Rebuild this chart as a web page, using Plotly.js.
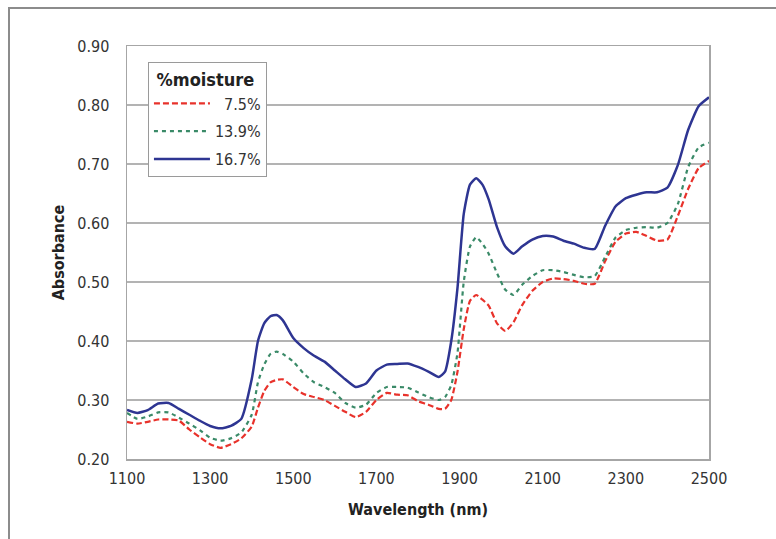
<!DOCTYPE html>
<html>
<head>
<meta charset="utf-8">
<script src="https://cdn.plot.ly/plotly-3.0.1.min.js"></script>
<style>
  html, body { margin: 0; padding: 0; background: #fff; overflow: hidden; }
  #chart { width: 776px; height: 539px; }
  #frame { position: absolute; left: 8px; top: 7px; width: 900px; height: 700px;
           border-top: 2px solid #8c8c8c; border-left: 2px solid #8c8c8c; pointer-events: none; }
</style>
</head>
<body>
<div id="chart"></div>
<div id="frame"></div>
<script>
const wavelength = [1100,1125,1150,1175,1200,1225,1250,1275,1300,1325,1350,1375,1400,1415,1430,1445,1460,1475,1500,1525,1550,1575,1600,1625,1650,1675,1700,1725,1750,1775,1800,1825,1850,1865,1880,1895,1910,1925,1940,1955,1970,1990,2010,2030,2050,2075,2100,2125,2150,2175,2200,2225,2250,2275,2300,2325,2350,2375,2400,2425,2450,2475,2500];

const moisture_7_5 = [0.263,0.260,0.263,0.267,0.267,0.265,0.250,0.237,0.225,0.219,0.225,0.235,0.255,0.287,0.315,0.330,0.334,0.335,0.322,0.310,0.305,0.300,0.290,0.280,0.271,0.280,0.300,0.312,0.309,0.308,0.298,0.292,0.285,0.285,0.300,0.348,0.420,0.468,0.478,0.470,0.460,0.430,0.417,0.432,0.460,0.485,0.500,0.506,0.505,0.502,0.497,0.497,0.535,0.568,0.582,0.585,0.578,0.570,0.572,0.612,0.658,0.693,0.705];

const moisture_13_9 = [0.278,0.268,0.272,0.279,0.279,0.270,0.260,0.249,0.236,0.231,0.235,0.245,0.275,0.330,0.360,0.378,0.382,0.378,0.365,0.345,0.330,0.322,0.312,0.295,0.287,0.292,0.312,0.322,0.322,0.321,0.313,0.305,0.300,0.305,0.325,0.380,0.500,0.560,0.576,0.565,0.548,0.515,0.487,0.478,0.495,0.510,0.520,0.520,0.517,0.512,0.508,0.510,0.542,0.575,0.588,0.592,0.593,0.592,0.600,0.632,0.695,0.728,0.736];

const moisture_16_7 = [0.283,0.278,0.283,0.294,0.295,0.285,0.275,0.265,0.256,0.252,0.256,0.268,0.335,0.400,0.430,0.442,0.444,0.435,0.405,0.388,0.375,0.365,0.350,0.335,0.322,0.328,0.350,0.360,0.361,0.362,0.356,0.348,0.339,0.348,0.400,0.490,0.615,0.665,0.676,0.665,0.640,0.593,0.560,0.548,0.560,0.572,0.578,0.577,0.570,0.565,0.558,0.556,0.595,0.628,0.642,0.648,0.652,0.652,0.660,0.698,0.758,0.798,0.813];

const seriesNames = ['7.5%', '13.9%', '16.7%'];
const xTicks = [1100,1300,1500,1700,1900,2100,2300,2500];
const yTicks = [0.20,0.30,0.40,0.50,0.60,0.70,0.80,0.90];

const fam = '"Liberation Sans Narrow", "DejaVu Sans Condensed", Arial, sans-serif';
const tickFont = {family: fam, size: 16, color: '#333333'};
const boldFont = {family: fam, size: 16, color: '#222222', weight: 'bold'};

const traces = [
  {x: wavelength, y: moisture_7_5, name: '  ' + seriesNames[0], legendgroup: 'a', type: 'scatter', mode: 'lines',
   line: {color: '#e8322b', width: 2.2, dash: '6px,3px', shape: 'spline', smoothing: 0.5}},
  {x: wavelength, y: moisture_13_9, name: seriesNames[1], legendgroup: 'b', type: 'scatter', mode: 'lines',
   line: {color: '#3a8a68', width: 2.2, dash: '4px,4px', shape: 'spline', smoothing: 0.5}},
  {x: wavelength, y: moisture_16_7, name: seriesNames[2], legendgroup: 'c', type: 'scatter', mode: 'lines',
   line: {color: '#2e3592', width: 2.5, shape: 'spline', smoothing: 0.5}}
];

const layout = {
  width: 776, height: 539,
  margin: {l: 127, r: 67, t: 46, b: 80},
  paper_bgcolor: 'rgba(0,0,0,0)',
  plot_bgcolor: '#ffffff',
  showlegend: true,
  legend: {
    x: 0.036, y: 0.961, xanchor: 'left', yanchor: 'top',
    bgcolor: '#ffffff', bordercolor: '#9a9a9a', borderwidth: 1,
    font: {family: fam, size: 16, color: '#333333'},
    title: {text: '<b> %moisture</b>', font: {family: fam, size: 18, color: '#222222'}},
    tracegroupgap: 4, itemwidth: 56
  },
  xaxis: {
    range: [1100, 2500], tickvals: xTicks, ticktext: xTicks.map(String),
    showgrid: false, zeroline: false,
    showline: true, linecolor: '#a6a6a6', linewidth: 1.5, mirror: true,
    ticks: 'outside', ticklen: 4, tickcolor: 'rgba(0,0,0,0)',
    tickfont: tickFont,
    title: {text: 'Wavelength (nm)', font: boldFont, standoff: 17}
  },
  yaxis: {
    range: [0.2, 0.9], tickvals: yTicks, ticktext: yTicks.map(v => v.toFixed(2)),
    showgrid: true, gridcolor: '#b3b3b3', gridwidth: 1.2, zeroline: false,
    showline: true, linecolor: '#a6a6a6', linewidth: 1.5, mirror: true,
    ticks: 'outside', ticklen: 13, tickcolor: 'rgba(0,0,0,0)',
    tickfont: tickFont,
    title: {text: 'Absorbance', font: boldFont, standoff: 8}
  }
};

Plotly.newPlot('chart', traces, layout, {displayModeBar: false, staticPlot: true});
</script>
</body>
</html>
